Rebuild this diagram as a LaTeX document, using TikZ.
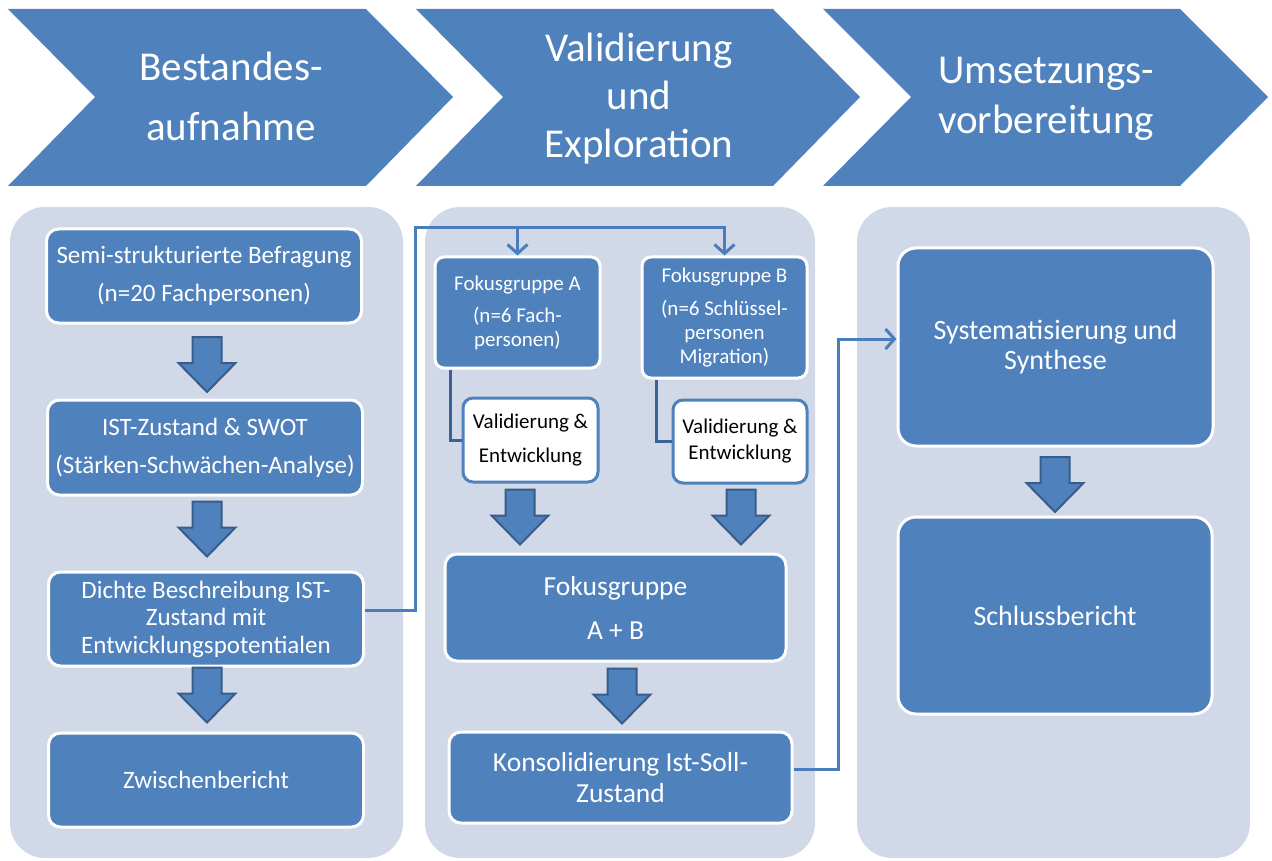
\documentclass[tikz,border=0pt]{standalone}
\usepackage{fontspec}
\setmainfont{Carlito}
\usepackage{tikz}
\usetikzlibrary{
  arrows.meta,
  positioning,
  calc
}
\definecolor{phasecolor}{RGB}{79, 129, 189}
\definecolor{panelcolor}{RGB}{209, 216, 232}
\definecolor{outlinecolor}{RGB}{56, 93, 138}
\definecolor{linkcolor}{RGB}{74, 125, 187}
\definecolor{stemcolor}{RGB}{58, 98, 152}
\tikzset{
phasetext/.style={
  align=center,
  text=white,
  font=\fontsize{41}{48}\selectfont
},
panel/.style={
  fill=panelcolor,
  rounded corners=35pt
},
stepbox/.style={
  draw=white,
  line width=3pt,
  rounded corners=12pt,
  fill=phasecolor,
  text=white,
  align=center,
  inner sep=2pt
},
leftbox/.style={
  stepbox,
  minimum width=315pt,
  font=\fontsize{25}{38}\selectfont
},
smallbox/.style={
  stepbox,
  rounded corners=9pt,
  minimum width=165pt,
  font=\fontsize{21}{24}\selectfont
},
checkbox/.style={
  draw=phasecolor,
  line width=3pt,
  rounded corners=10pt,
  fill=white,
  text=black,
  align=center,
  inner sep=2pt,
  font=\fontsize{21}{34}\selectfont
},
link/.style={
  draw=linkcolor,
  line width=3pt,
  -{Straight Barb[length=9pt,width=20pt]}
},
stem/.style={
  draw=stemcolor,
  line width=3pt
},
bigarrow/.pic={
  \filldraw[fill=phasecolor, draw=outlinecolor, line width=2pt]
    (-14.5,-27.5) -- (14.5,-27.5) -- (14.5,-1.5) -- (28.5,-1.5)
    -- (0,27.5) -- (-28.5,-1.5) -- (-14.5,-1.5) -- cycle;
}
}

\begin{document}
\begin{tikzpicture}[x=1pt,y=-1pt]
  \useasboundingbox (0,0) rectangle (1272,861);

  % phases
  \fill[phasecolor] (8,9) -- (366,9) -- (453,97) -- (366,186) -- (8,186) -- (95,97) -- cycle;
  \fill[phasecolor] (416,9) -- (773,9) -- (860,97) -- (773,186) -- (416,186) -- (503,97) -- cycle;
  \fill[phasecolor] (823,9) -- (1180,9) -- (1268,97) -- (1180,186) -- (823,186) -- (911,97) -- cycle;
  \node[phasetext] (phase1) at (231,96) {Bestandes-\\[12pt]aufnahme};
  \node[phasetext] (phase2) at (639,99) {Validierung\\und\\Exploration};
  \node[phasetext] (phase3) at (1046,99) {Umsetzungs-\\[2pt]vorbereitung};

  % panels
  \fill[panel] (10,207) rectangle (403,858);
  \fill[panel] (425,207) rectangle (815,858);
  \fill[panel] (857,207) rectangle (1250,858);

  % Bestandesaufnahme
  \node[leftbox, minimum height=94pt] (semi) at (204,276)
    {Semi-strukturierte Befragung\\(n=20 Fachpersonen)};
  \node[leftbox, minimum height=95pt] (ist) at (205,447.5)
    {IST-Zustand \& SWOT\\(Stärken-Schwächen-Analyse)};
  \node[leftbox, minimum height=94pt, font=\fontsize{25}{27.5}\selectfont] (dichte) at (206,619)
    {Dichte Beschreibung IST-\\Zustand mit\\Entwicklungspotentialen};
  \node[leftbox, minimum height=94pt] (zwischen) at (206,780) {Zwischenbericht};
  \pic at (207,364.5) {bigarrow};
  \pic at (207,529) {bigarrow};
  \pic at (207,695) {bigarrow};

  % Validierung und Exploration
  \node[smallbox, minimum height=111pt] (foka) at (517.5,312.5)
    {Fokusgruppe A\\[8pt](n=6 Fach-\\personen)};
  \node[smallbox, minimum height=121pt] (fokb) at (724.5,317.5)
    {Fokusgruppe B\\[9pt](n=6 Schlüssel-\\personen\\Migration)};
  \node[checkbox, minimum width=135pt, minimum height=84pt] (vala) at (530.5,440)
    {Validierung \&\\Entwicklung};
  \node[checkbox, minimum width=134pt, minimum height=83pt, font=\fontsize{21}{26}\selectfont] (valb) at (740,441.5)
    {Validierung \&\\Entwicklung};
  \node[stepbox, minimum width=341pt, minimum height=107pt, font=\fontsize{27.5}{44}\selectfont] (fokab) at (615.5,607.5)
    {Fokusgruppe\\A + B};
  \node[stepbox, minimum width=343pt, minimum height=91pt, font=\fontsize{27.5}{31}\selectfont] (kons) at (620.5,777.5)
    {Konsolidierung Ist-Soll-\\Zustand};
  \pic at (520,517) {bigarrow};
  \pic at (741,517) {bigarrow};
  \pic at (622,696) {bigarrow};

  % Umsetzungsvorbereitung
  \node[stepbox, rounded corners=18pt, minimum width=315pt, minimum height=198pt, font=\fontsize{28}{30}\selectfont] (syst) at (1055.5,347)
    {Systematisierung und\\Synthese};
  \node[stepbox, rounded corners=18pt, minimum width=314pt, minimum height=197pt, font=\fontsize{28}{30}\selectfont] (schluss) at (1055,615.5)
    {Schlussbericht};
  \pic at (1055,484.5) {bigarrow};

  % connectors
  \coordinate (fork) at (415,228);
  \draw[link] ([yshift=9pt]dichte.east) -| (fork) -| (fokb.north);
  \draw[link] (foka.north |- fork) -- (foka.north);
  \draw[stem] ([xshift=-11pt]vala.west |- foka.south) |- (vala.west);
  \draw[stem] ([xshift=-15pt]valb.west |- fokb.south) |- (valb.west);
  \draw[link] ([yshift=8pt]kons.east) -- ++(45,0) |- ([yshift=8pt]syst.west);
\end{tikzpicture}
\end{document}
